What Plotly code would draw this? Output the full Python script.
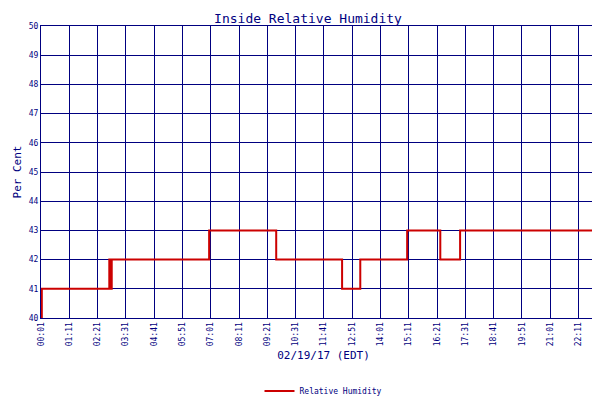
import plotly.graph_objects as go
from datetime import datetime, timedelta

# readings (time HH:MM, % RH)
times = ['00:01', '00:03', '02:48', '02:50', '02:51', '02:52', '02:54', '02:56',
         '06:57', '09:43', '12:26', '13:11', '15:07', '16:29', '17:18', '23:19']
rh = [40, 41, 41, 42, 41, 42, 41, 42, 43, 42, 41, 42, 43, 42, 43, 43]

tick_labels = ['00:01', '01:11', '02:21', '03:31', '04:41', '05:51', '07:01', '08:11',
               '09:21', '10:31', '11:41', '12:51', '14:01', '15:11', '16:21', '17:31',
               '18:41', '19:51', '21:01', '22:11', '23:19']

day = datetime(2017, 2, 19)
def ts(s):
    h, m = s.split(':')
    return day + timedelta(hours=int(h), minutes=int(m))

x = [ts(t) for t in times]
navy = '#000080'
font = 'DejaVu Sans Mono'

fig = go.Figure(go.Scatter(x=x, y=rh, mode='lines', line=dict(color='#cc0000', width=2, shape='hv'),
                           name='Relative Humidity'))
fig.update_layout(
    width=600, height=400, paper_bgcolor='white', plot_bgcolor='white',
    margin=dict(l=33, r=2, t=18, b=63),
    title=dict(text='Inside Relative Humidity', x=0.5, y=0.985, xanchor='center', yanchor='top',
               font=dict(family=font, size=13, color=navy)),
    font=dict(family=font, size=9, color=navy),
    showlegend=True,
    legend=dict(orientation='h', x=0.5, xanchor='center', y=-0.2, yanchor='top',
                font=dict(size=8, color=navy)),
)
fig.update_xaxes(range=[ts('00:01'), ts('23:19')], tickvals=[ts(t) for t in tick_labels],
                 ticktext=tick_labels, tickangle=-90, showgrid=True, gridcolor=navy, gridwidth=1,
                 showline=True, linecolor=navy, mirror=True, layer='above traces',
                 title=dict(text='02/19/17 (EDT)', font=dict(size=11, color=navy), standoff=6),
                 ticks='', tickfont=dict(size=8))
fig.update_yaxes(range=[40, 50], dtick=1, showgrid=True, gridcolor=navy, gridwidth=1,
                 showline=True, linecolor=navy, mirror=True, layer='above traces',
                 title=dict(text='Per Cent', font=dict(size=11, color=navy), standoff=4),
                 ticks='', tickfont=dict(size=8))
fig.write_html('out.html')
